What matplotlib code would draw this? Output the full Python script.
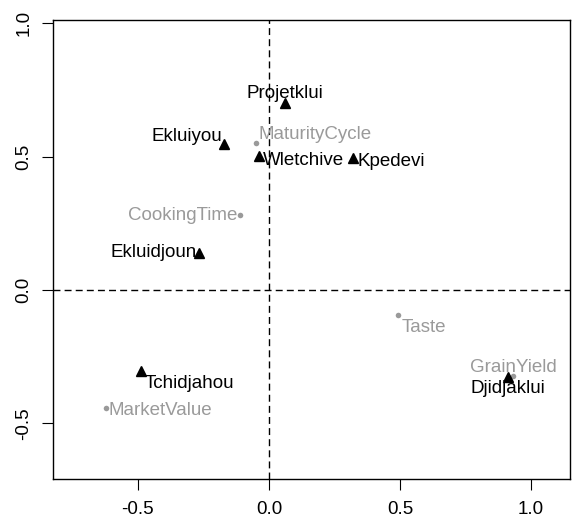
import matplotlib.pyplot as plt

plt.rcParams['font.family'] = ['Liberation Sans', 'DejaVu Sans']

# genotypes (black triangles)
geno_names = ["Projetklui", "Ekluiyou", "Wletchive", "Kpedevi", "Ekluidjoun",
              "Tchidjahou", "Djidjaklui"]
geno_x = [0.061, -0.171, -0.038, 0.322, -0.268, -0.489, 0.911]
geno_y = [0.702, 0.546, 0.502, 0.494, 0.140, -0.303, -0.325]

# traits (grey dots)
trait_names = ["MaturityCycle", "CookingTime", "Taste", "MarketValue", "GrainYield"]
trait_x = [-0.050, -0.111, 0.491, -0.620, 0.933]
trait_y = [0.549, 0.279, -0.094, -0.441, -0.322]

# label placement: (dx, dy) in pixels, horizontal alignment
geno_off = [((0, 9), "center"), ((-2, 8), "right"), ((4, -4), "left"),
            ((4, -3), "left"), ((-2, 0), "right"), ((4, -13), "left"),
            ((0, -12), "center")]
trait_off = [((3, 9), "left"), ((-2, 0), "right"), ((4, -13), "left"),
             ((2, -3), "left"), ((0, 8), "center")]

grey = "#9a9a9a"
fs = 13.5

fig = plt.figure(figsize=(5.72, 5.22), dpi=100)
ax = fig.add_axes([53 / 572, 1 - 479 / 522, (570 - 53) / 572, (479 - 20) / 522])

ax.axhline(0, color="black", ls=(0, (5, 3)), lw=1)
ax.axvline(0, color="black", ls=(0, (5, 3)), lw=1)

ax.plot(trait_x, trait_y, "o", color=grey, ms=4, mec="none")
ax.plot(geno_x, geno_y, "^", color="black", ms=7.5)

for name, x, y, (off, ha) in zip(geno_names, geno_x, geno_y, geno_off):
    ax.annotate(name, (x, y), xytext=off, textcoords="offset pixels",
                ha=ha, va="center", fontsize=fs, color="black")
for name, x, y, (off, ha) in zip(trait_names, trait_x, trait_y, trait_off):
    ax.annotate(name, (x, y), xytext=off, textcoords="offset pixels",
                ha=ha, va="center", fontsize=fs, color=grey)

ax.set_xlim(-0.824, 1.149)
ax.set_ylim(-0.709, 1.012)
ax.set_xticks([-0.5, 0.0, 0.5, 1.0])
ax.set_yticks([-0.5, 0.0, 0.5, 1.0])
ax.set_xticklabels(["-0.5", "0.0", "0.5", "1.0"])
ax.set_yticklabels(["-0.5", "0.0", "0.5", "1.0"], rotation=90, va="center")
ax.tick_params(length=8, labelsize=fs)
ax.tick_params(axis="x", pad=8)
ax.tick_params(axis="y", pad=7)
for s in ax.spines.values():
    s.set_linewidth(1)

fig.savefig("out.png", dpi=100)
